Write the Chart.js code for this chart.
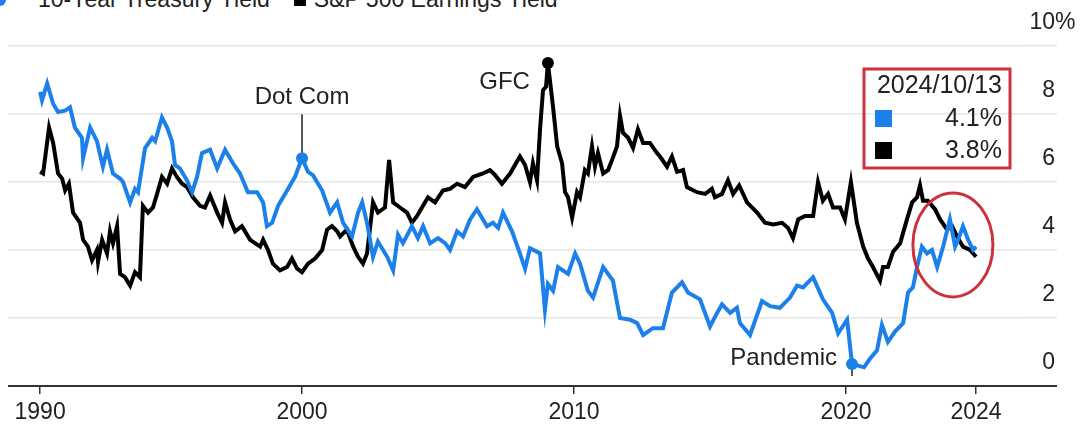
<!DOCTYPE html>
<html>
<head>
<meta charset="utf-8">
<script src="https://cdn.jsdelivr.net/npm/chart.js@4.4.1/dist/chart.umd.min.js"></script>
<style>
  html, body { margin: 0; padding: 0; background: #fff; }
  #wrap { position: relative; width: 1080px; height: 429px; overflow: hidden; }
  #legend {
    position: absolute; top: -14px; left: -6px;
    font: 23px 'Liberation Sans', Arial, sans-serif; color: #222;
    white-space: nowrap; display: flex; align-items: center;
  }
  #legend .dot { display: inline-block; width: 12px; height: 12px; border-radius: 50%; margin-right: 32px; }
  #legend .sq { display: inline-block; width: 12px; height: 12px; margin: 0 8px 0 24px; }
  canvas { position: absolute; top: 0; left: 0; }
</style>
</head>
<body>
<div id="wrap">
  <div id="legend">
    <span class="dot" style="background:#1c80ea"></span>10-Year Treasury Yield
    <span class="sq" style="background:#000"></span>S&amp;P 500 Earnings Yield
  </div>
  <canvas id="chart" width="1080" height="429"></canvas>
</div>
<script>
// 10-year treasury yield, % (decimal years)
const tsyDates = [
  1990.37, 1990.44, 1990.63, 1990.85, 1991.03, 1991.29, 1991.47, 1991.65, 1991.91, 1991.95,
  1992.21, 1992.46, 1992.68, 1992.83, 1993.05, 1993.31, 1993.42, 1993.68, 1993.86, 1993.97,
  1994.23, 1994.49, 1994.60, 1994.85, 1995.04, 1995.22, 1995.33, 1995.51, 1995.77, 1995.96,
  1996.14, 1996.32, 1996.62, 1996.88, 1997.17, 1997.46, 1997.72, 1998.01, 1998.35, 1998.57,
  1998.71, 1998.90, 1999.12, 1999.45, 1999.74, 2000.00, 2000.22, 2000.40, 2000.74, 2001.03,
  2001.29, 2001.51, 2001.84, 2002.06, 2002.21, 2002.39, 2002.61, 2002.79, 2003.13, 2003.35,
  2003.53, 2003.71, 2004.04, 2004.26, 2004.45, 2004.71, 2005.00, 2005.26, 2005.44, 2005.70,
  2005.92, 2006.18, 2006.43, 2006.80, 2007.02, 2007.21, 2007.39, 2007.72, 2008.01, 2008.20,
  2008.38, 2008.75, 2008.93, 2009.04, 2009.23, 2009.41, 2009.78, 2010.04, 2010.22, 2010.51,
  2010.70, 2011.07, 2011.43, 2011.69, 2012.06, 2012.32, 2012.54, 2012.90, 2013.27, 2013.60,
  2013.97, 2014.19, 2014.63, 2015.00, 2015.26, 2015.44, 2015.74, 2015.99, 2016.10, 2016.47,
  2016.91, 2017.21, 2017.57, 2017.94, 2018.20, 2018.42, 2018.79, 2019.15, 2019.49, 2019.71,
  2020.04, 2020.22, 2020.44, 2020.66, 2020.88, 2021.14, 2021.32, 2021.54, 2021.80, 2022.10,
  2022.28, 2022.46, 2022.61, 2022.79, 2022.98, 2023.16, 2023.35, 2023.57, 2023.82, 2024.01,
  2024.12, 2024.30, 2024.49, 2024.67, 2024.78
];
const tsyYields = [
  8.65, 8.4, 8.9, 8.3, 8.06, 8.1, 8.2, 7.6, 7.3, 6.7,
  7.6, 7.2, 6.45, 6.95, 6.25, 6.1, 6.0, 5.4, 5.8, 5.7,
  7.0, 7.3, 7.2, 7.9, 7.6, 7.2, 6.5, 6.4, 6.05, 5.7,
  6.15, 6.85, 6.95, 6.4, 6.95, 6.55, 6.25, 5.7, 5.7, 5.4,
  4.7, 4.8, 5.3, 5.75, 6.15, 6.7, 6.3, 6.2, 5.75, 5.1,
  5.4, 4.8, 4.4, 5.1, 5.4, 4.8, 3.8, 4.25, 3.8, 3.4,
  4.45, 4.2, 4.7, 4.35, 4.7, 4.2, 4.35, 4.2, 4.0, 4.55,
  4.4, 4.9, 5.2, 4.7, 4.8, 4.65, 5.1, 4.55, 3.9, 3.45,
  4.05, 3.9, 2.25, 3.0, 2.8, 3.5, 3.3, 3.9, 3.6, 2.8,
  2.6, 3.5, 3.1, 2.0, 1.95, 1.85, 1.5, 1.7, 1.7, 2.75,
  3.05, 2.75, 2.55, 1.75, 2.15, 2.4, 2.15, 2.3, 1.85, 1.5,
  2.5, 2.35, 2.3, 2.6, 2.95, 2.9, 3.2, 2.55, 2.15, 1.55,
  1.95, 0.65, 0.6, 0.55, 0.8, 1.05, 1.8, 1.3, 1.6, 1.85,
  2.75, 2.9, 3.5, 4.1, 3.9, 4.0, 3.5, 4.1, 4.9, 4.1,
  4.3, 4.7, 4.3, 4.0, 4.1
];

// S&P 500 earnings yield, %
const eyDates = [
  1990.37, 1990.48, 1990.70, 1990.85, 1991.03, 1991.18, 1991.29, 1991.43, 1991.58, 1991.84,
  1991.95, 1992.13, 1992.28, 1992.46, 1992.50, 1992.65, 1992.83, 1992.94, 1993.05, 1993.20,
  1993.31, 1993.49, 1993.68, 1993.86, 1994.04, 1994.15, 1994.34, 1994.52, 1994.67, 1994.85,
  1995.04, 1995.22, 1995.40, 1995.59, 1995.77, 1995.99, 1996.25, 1996.43, 1996.62, 1996.88,
  1997.06, 1997.17, 1997.35, 1997.54, 1997.79, 1998.09, 1998.46, 1998.57, 1998.75, 1998.93,
  1999.19, 1999.45, 1999.63, 1999.82, 2000.00, 2000.22, 2000.48, 2000.74, 2000.92, 2001.10,
  2001.29, 2001.40, 2001.65, 2001.88, 2002.06, 2002.24, 2002.39, 2002.61, 2002.79, 2003.05,
  2003.20, 2003.35, 2003.60, 2003.86, 2004.04, 2004.23, 2004.41, 2004.63, 2004.89, 2005.18,
  2005.44, 2005.70, 2005.99, 2006.29, 2006.65, 2006.91, 2007.10, 2007.35, 2007.65, 2008.01,
  2008.20, 2008.38, 2008.49, 2008.64, 2008.75, 2008.86, 2008.97, 2009.04, 2009.23, 2009.38,
  2009.56, 2009.67, 2009.78, 2009.93, 2010.11, 2010.22, 2010.40, 2010.51, 2010.66, 2010.77,
  2010.88, 2011.07, 2011.25, 2011.40, 2011.58, 2011.69, 2011.80, 2011.99, 2012.17, 2012.35,
  2012.54, 2012.79, 2013.05, 2013.16, 2013.42, 2013.60, 2013.79, 2014.01, 2014.15, 2014.52,
  2014.82, 2015.07, 2015.18, 2015.44, 2015.66, 2015.85, 2016.07, 2016.36, 2016.73, 2017.02,
  2017.32, 2017.65, 2017.87, 2018.05, 2018.24, 2018.49, 2018.79, 2018.97, 2019.15, 2019.34,
  2019.52, 2019.78, 2019.96, 2020.18, 2020.40, 2020.63, 2020.81, 2020.99, 2021.25, 2021.36,
  2021.54, 2021.73, 2021.99, 2022.24, 2022.43, 2022.61, 2022.72, 2022.83, 2023.01, 2023.27,
  2023.46, 2023.71, 2023.90, 2024.08, 2024.30, 2024.56, 2024.78
];
const eyYields = [
  6.3, 6.25, 7.6, 7.15, 6.25, 6.1, 5.75, 5.95, 5.1, 4.8,
  4.3, 4.1, 3.7, 4.0, 3.65, 4.3, 3.9, 4.55, 4.2, 4.7,
  3.3, 3.2, 2.95, 3.35, 3.2, 5.3, 5.1, 5.25, 5.65, 6.15,
  5.95, 6.4, 6.15, 5.95, 5.85, 5.55, 5.3, 5.25, 5.6, 5.1,
  4.8, 5.4, 4.9, 4.55, 4.7, 4.3, 4.1, 4.3, 4.0, 3.6,
  3.4, 3.5, 3.75, 3.45, 3.35, 3.6, 3.75, 4.0, 4.6, 4.7,
  4.55, 4.4, 4.6, 4.1, 3.8, 3.6, 3.9, 5.4, 5.1, 5.25,
  6.65, 5.4, 5.25, 5.1, 4.8, 5.0, 5.25, 5.55, 5.4, 5.75,
  5.8, 5.95, 5.85, 6.15, 6.25, 6.35, 6.2, 5.95, 6.25, 6.75,
  6.5, 6.0, 6.55, 6.05, 7.55, 8.7, 8.8, 9.5, 8.2, 7.05,
  6.55, 5.7, 5.55, 4.95, 5.7, 5.55, 6.35, 6.25, 7.05, 6.45,
  6.85, 6.25, 6.35, 6.65, 7.05, 7.95, 7.45, 7.3, 7.0, 7.55,
  7.15, 7.15, 6.85, 6.75, 6.45, 6.75, 6.3, 6.35, 5.85, 5.7,
  5.65, 5.8, 5.55, 5.65, 6.05, 5.65, 5.9, 5.4, 5.1, 4.8,
  4.75, 4.8, 4.65, 4.35, 4.9, 5.0, 5.0, 6.0, 5.45, 5.65,
  5.25, 5.25, 4.9, 6.0, 4.8, 4.1, 3.75, 3.5, 3.1, 3.5,
  3.5, 3.95, 4.2, 4.9, 5.4, 5.55, 5.9, 5.45, 5.45, 5.2,
  4.9, 4.6, 4.7, 4.4, 4.1, 4.0, 3.8
];

const seriesNames = ['10-Year Treasury Yield', 'S&P 500 Earnings Yield'];
const xTickValues = [1990.37, 2000, 2010, 2020, 2024.78];
const xTickLabels = ['1990', '2000', '2010', '2020', '2024'];
const yTickValues = [0, 2, 4, 6, 8, 10];

// events marked on the chart
const eventLabels = ['Dot Com', 'GFC', 'Pandemic'];
const eventSeries = ['tsy', 'ey', 'tsy'];
const eventDates = [2000.00, 2009.04, 2020.22];
const lastDateLabel = '2024/10/13';

const BLUE = '#1c80ea';
const RED = '#cc313d';
const FONT = "'Liberation Sans', Arial, sans-serif";

function toPoints(dates, values) {
  return dates.map((d, i) => ({x: d, y: values[i]}));
}

function seriesValue(key, date) {
  const dates = key === 'tsy' ? tsyDates : eyDates;
  const vals = key === 'tsy' ? tsyYields : eyYields;
  return vals[dates.indexOf(date)];
}

const notes = {
  id: 'notes',
  afterDatasetsDraw(chart) {
    const ctx = chart.ctx;
    const xs = chart.scales.x, ys = chart.scales.y;
    ctx.save();
    ctx.font = '24px ' + FONT;
    ctx.textBaseline = 'middle';
    ctx.strokeStyle = '#222';
    ctx.lineWidth = 1.5;

    eventLabels.forEach((label, i) => {
      const px = xs.getPixelForValue(eventDates[i]);
      const py = ys.getPixelForValue(seriesValue(eventSeries[i], eventDates[i]));
      const color = eventSeries[i] === 'tsy' ? BLUE : '#000';
      ctx.fillStyle = '#222';
      if (i === 0) {
        ctx.textAlign = 'center';
        ctx.fillText(label, px, py - 61);
        ctx.beginPath(); ctx.moveTo(px, py - 44); ctx.lineTo(px, py); ctx.stroke();
      } else if (i === 1) {
        ctx.textAlign = 'right';
        ctx.fillText(label, px - 18, py + 19);
      } else {
        ctx.textAlign = 'right';
        ctx.fillText(label, px - 15, py - 6);
        ctx.beginPath(); ctx.moveTo(px, py); ctx.lineTo(px, py + 12); ctx.stroke();
      }
      ctx.fillStyle = color;
      ctx.beginPath(); ctx.arc(px, py, 6, 0, Math.PI * 2); ctx.fill();
    });

    // circle round the latest readings
    ctx.strokeStyle = RED;
    ctx.lineWidth = 3;
    ctx.beginPath();
    ctx.ellipse(xs.getPixelForValue(2023.93), ys.getPixelForValue(4.15), 40, 52, 0, 0, Math.PI * 2);
    ctx.stroke();

    // latest value box
    ctx.strokeRect(864, 69, 146, 99);
    ctx.font = '25px ' + FONT;
    ctx.textAlign = 'right';
    ctx.fillStyle = '#222';
    ctx.fillText(lastDateLabel, 1002, 86);
    ctx.fillText(tsyYields[tsyYields.length - 1].toFixed(1) + '%', 1002, 119);
    ctx.fillText(eyYields[eyYields.length - 1].toFixed(1) + '%', 1002, 151);
    ctx.fillStyle = BLUE;
    ctx.fillRect(875, 110, 17, 17);
    ctx.fillStyle = '#000';
    ctx.fillRect(875, 142, 17, 17);
    ctx.restore();
  },
  afterDraw(chart) {
    // unit only on the top label
    const ctx = chart.ctx;
    const ys = chart.scales.y;
    ctx.save();
    ctx.font = '23px ' + FONT;
    ctx.fillStyle = '#222';
    ctx.textAlign = 'left';
    ctx.textBaseline = 'middle';
    ctx.fillText('%', ys.right, ys.getPixelForValue(10) - 23);
    ctx.restore();
  }
};

new Chart(document.getElementById('chart'), {
  type: 'line',
  data: {
    datasets: [
      {
        label: seriesNames[0],
        data: toPoints(tsyDates, tsyYields),
        borderColor: BLUE,
        borderWidth: 4,
        pointRadius: 0,
        tension: 0
      },
      {
        label: seriesNames[1],
        data: toPoints(eyDates, eyYields),
        borderColor: '#000',
        borderWidth: 4,
        pointRadius: 0,
        tension: 0
      }
    ]
  },
  options: {
    responsive: false,
    animation: false,
    devicePixelRatio: 1,
    layout: { padding: { top: 46, right: 25, bottom: 0, left: 8 } },
    plugins: { legend: { display: false }, tooltip: { enabled: false } },
    scales: {
      x: {
        type: 'linear',
        min: 1989.19,
        max: 2026.58,
        afterBuildTicks: (s) => { s.ticks = xTickValues.map(v => ({value: v})); },
        afterFit: (s) => { s.height = 43; },
        grid: { drawOnChartArea: false, drawTicks: true, tickLength: 8, color: '#333', lineWidth: 1.5 },
        border: { display: false },
        ticks: {
          autoSkip: false,
          maxRotation: 0,
          padding: 5,
          color: '#222',
          font: { family: FONT, size: 23 },
          callback: (v, i) => xTickLabels[i]
        }
      },
      y: {
        position: 'right',
        min: 0,
        max: 10,
        afterBuildTicks: (s) => { s.ticks = yTickValues.map(v => ({value: v})); },
        afterFit: (s) => { s.width = 30; },
        grid: {
          color: (c) => c.tick && c.tick.value === 0 ? '#333' : '#e6e6e6',
          lineWidth: (c) => c.tick && c.tick.value === 0 ? 2 : 1.5,
          drawTicks: true,
          tickLength: 32
        },
        border: { display: false },
        ticks: {
          crossAlign: 'far',
          padding: -28,
          labelOffset: -23,
          color: '#222',
          font: { family: FONT, size: 23 },
          callback: (v) => String(v)
        }
      }
    }
  },
  plugins: [notes]
});
</script>
</body>
</html>
